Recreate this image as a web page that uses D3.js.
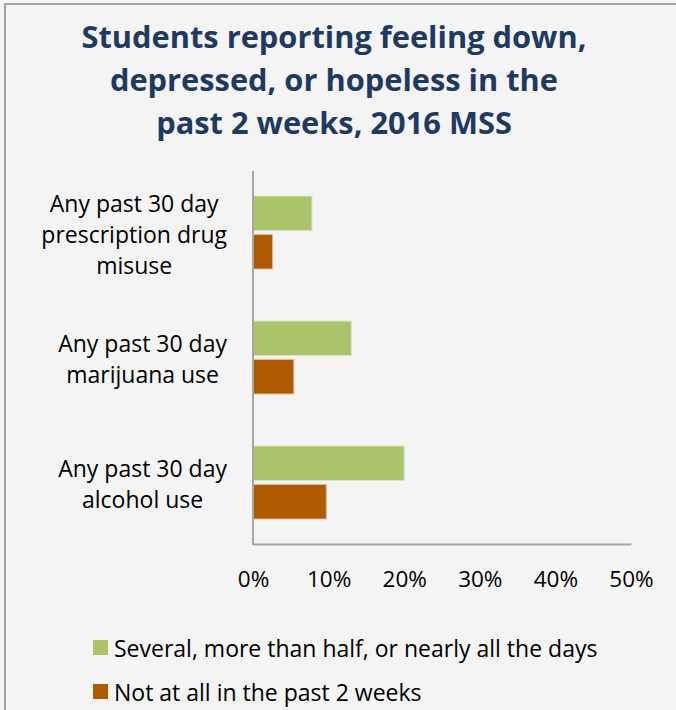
<!DOCTYPE html>
<html>
<head>
<meta charset="utf-8">
<script src="https://cdn.jsdelivr.net/npm/d3@7"></script>
<style>
  html, body { margin: 0; padding: 0; background: #F4F4F4; }
  svg { display: block; }
  text { font-family: "Open Sans", Lato, "DejaVu Sans", sans-serif; }
</style>
</head>
<body>
<script>
// Chart data
const categories = [
  ["Any past 30 day", "prescription drug", "misuse"],
  ["Any past 30 day", "marijuana use"],
  ["Any past 30 day", "alcohol use"]
];
const seriesNames = [
  "Several, more than half, or nearly all the days",
  "Not at all in the past 2 weeks"
];
const severalDays = [0.078, 0.130, 0.200];
const notAtAll = [0.026, 0.054, 0.097];
const xTicks = [0, 0.1, 0.2, 0.3, 0.4, 0.5];
const titleLines = [
  "Students reporting feeling down,",
  "depressed, or hopeless in the",
  "past 2 weeks, 2016 MSS"
];

const colors = ["#ABC46C", "#AD5A00"];
const edgeColors = ["#DCE7C2", "#E6BE98"];

const W = 676, H = 710;
const svg = d3.select("body").append("svg").attr("width", W).attr("height", H);

svg.append("rect").attr("width", W).attr("height", H).attr("fill", "#F4F4F4");

// Frame along left and top
svg.append("path")
  .attr("d", `M5,${H} L5,4 L${W},4`)
  .attr("fill", "none").attr("stroke", "#A3A3A3").attr("stroke-width", 2);

// Title
svg.append("g").selectAll("text").data(titleLines).join("text")
  .attr("x", 334).attr("y", (d, i) => 48 + i * 43)
  .attr("text-anchor", "middle")
  .attr("font-size", 30.8).attr("font-weight", 700)
  .attr("fill", "#1F3A60")
  .text(d => d);

const keys = categories.map((c, i) => i);
const x = d3.scaleLinear().domain([0, 0.5]).range([253, 631]);
const y = d3.scaleBand().domain(keys).range([170, 545]).paddingInner(0.416).paddingOuter(0.208);
const ySub = d3.scaleBand().domain([0, 1]).range([0, y.bandwidth()]).paddingInner(0.1);

const rows = keys.map(i => ({ i, vals: [severalDays[i], notAtAll[i]] }));

const groups = svg.append("g").selectAll("g").data(rows).join("g")
  .attr("transform", d => `translate(0,${y(d.i)})`);

groups.selectAll("rect").data(d => d.vals.map((v, s) => ({ v, s }))).join("rect")
  .attr("x", x(0))
  .attr("y", d => ySub(d.s))
  .attr("width", d => x(d.v) - x(0))
  .attr("height", ySub.bandwidth())
  .attr("fill", d => colors[d.s])
  .attr("stroke", d => edgeColors[d.s])
  .attr("stroke-width", 1);

// Axes
const xAxis = d3.axisBottom(x).tickValues(xTicks).tickFormat(d3.format(".0%")).tickSize(0).tickPadding(0);
const gx = svg.append("g").attr("transform", `translate(0,544)`).call(xAxis);
gx.select(".domain").attr("stroke", "#A6A6A6").attr("stroke-width", 2);
gx.selectAll("text").attr("font-size", 22.5).attr("fill", "#000")
  .attr("font-family", "'Open Sans', Lato, sans-serif")
  .attr("dy", null).attr("y", 43);

svg.append("line")
  .attr("x1", x(0)).attr("x2", x(0))
  .attr("y1", 171).attr("y2", 545)
  .attr("stroke", "#A6A6A6").attr("stroke-width", 2);

// Category labels, each block right-aligned against the axis with centred lines
const labelRight = 227;
const lineGap = 31;
categories.forEach((lines, i) => {
  const g = svg.append("g");
  const texts = g.selectAll("text").data(lines).join("text")
    .attr("font-size", 23).attr("fill", "#000")
    .attr("text-anchor", "middle")
    .text(d => d);
  let maxW = 0;
  texts.each(function () { maxW = Math.max(maxW, this.getComputedTextLength()); });
  const cx = labelRight - maxW / 2;
  const mid = y(i) + y.bandwidth() / 2;
  const first = mid - (lines.length - 1) * lineGap / 2 + 10;
  texts.attr("x", cx).attr("y", (d, k) => first + k * lineGap);
});

// Legend
const legend = svg.append("g").selectAll("g").data(seriesNames).join("g")
  .attr("transform", (d, i) => `translate(93,${640 + i * 44})`);
legend.append("rect").attr("width", 15).attr("height", 15).attr("fill", (d, i) => colors[i]);
legend.append("text").attr("x", 21).attr("y", 17)
  .attr("font-size", 23).attr("fill", "#000").text(d => d);
</script>
</body>
</html>
